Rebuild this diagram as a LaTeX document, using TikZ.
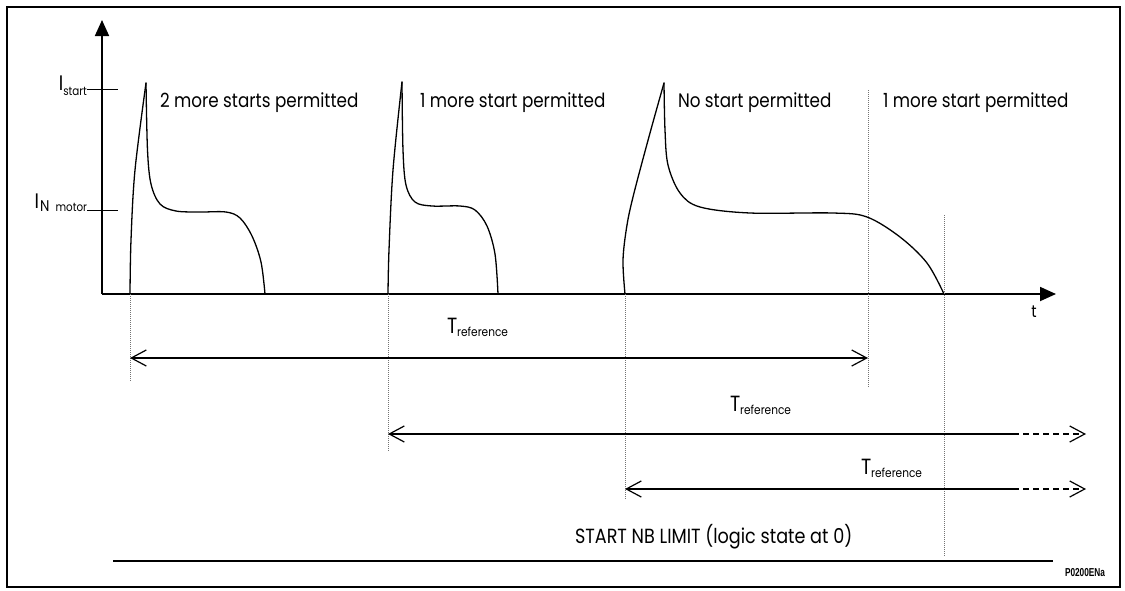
\documentclass[tikz,border=0pt]{standalone}
\usepackage{fontspec}
\setmainfont{Poppins}[FakeStretch=0.86]
\newfontfamily\tagfont{Liberation Sans}[FakeStretch=0.72]
\usetikzlibrary{arrows.meta}
% lowered small text for subscripts
\newcommand{\lowsub}[3]{\raisebox{-#1pt}{\fontsize{#2}{#2}\selectfont #3}}
\begin{document}
\begin{tikzpicture}[x=1pt,y=-1pt,
  every node/.style={inner sep=0pt, outer sep=0pt, text=black},
  lbl/.style={font=\fontsize{19.5}{19.5}\selectfont, anchor=base west},
  axis/.style={line width=1.8pt, -{Triangle[length=16pt,width=14pt]}},
  tick/.style={line width=1pt},
  wave/.style={line width=1.3pt, line join=round, line cap=round},
  guide/.style={line width=0.9pt, black!55, dash pattern=on 1pt off 1pt},
  span/.style={line width=1.2pt, {Straight Barb[length=15pt,width=16pt]}-{Straight Barb[length=15pt,width=16pt]}},
  lspan/.style={line width=1.2pt, {Straight Barb[length=15pt,width=16pt]}-},
  rspan/.style={line width=1.2pt, dash pattern=on 6pt off 4pt, -{Straight Barb[length=15pt,width=16pt]}},
  tref/.style={font=\fontsize{22}{22}\selectfont, anchor=base west},
  level/.style={font=\fontsize{21}{21}\selectfont, anchor=base east}
]
\useasboundingbox (0,0) rectangle (1125,590);
% outer frame
\draw[line width=2pt] (7,7) rectangle (1120,587);

% axes
\coordinate (O) at (102,294);
\coordinate (ytop) at (102,20);
\coordinate (xend) at (1056,294);
\draw[axis] (O) -- (ytop);
\draw[axis] (O) -- (xend);
\node[font=\fontsize{17}{17}\selectfont, anchor=base] (tlab) at (1034,317) {t};

% current levels
\coordinate (ts1) at (87,89);  \coordinate (ts2) at (118,89);
\coordinate (tn1) at (87,210); \coordinate (tn2) at (118,210);
\draw[tick] (ts1) -- (ts2);
\draw[tick] (tn1) -- (tn2);
\node[level] (istart) at (87,90)
  {I\lowsub{5}{12}{start}};
\node[level] (imotor) at (87,208)
  {I\hspace{1pt}\lowsub{3}{15.5}{N}\hspace{6pt}\lowsub{3}{12}{motor}};

% first start
\draw[wave] plot[smooth, tension=0.55] coordinates
  {(130,294) (131,240) (135,170) (146,83)};
\draw[wave] plot[smooth, tension=0.55] coordinates
  {(146,83) (147.5,150) (151,184) (160,204) (176,211) (200,212) (226,212)
   (240,218) (252,236) (261,262) (265,294)};

% second start
\draw[wave] plot[smooth, tension=0.55] coordinates
  {(388,294) (389,250) (393,170) (402,82)};
\draw[wave] plot[smooth, tension=0.55] coordinates
  {(402,82) (403,150) (406,185) (415,202) (432,206) (460,206)
   (475,210) (487,226) (495,254) (498,294)};

% third start
\draw[wave] plot[smooth, tension=0.55] coordinates
  {(625,294) (623,260) (627,225) (634,193) (650,133) (664,83)};
\draw[wave] plot[smooth, tension=0.55] coordinates
  {(664,83) (665,130) (668,165) (680,193) (700,207) (750,213) (833,213)
   (867,217) (900,237) (927,263) (944,294)};

% state labels
\node[lbl] (s1) at (160,107) {2 more starts permitted};
\node[lbl] (s2) at (420,107) {1 more start permitted};
\node[lbl] (s3) at (678,107) {No start permitted};
\node[lbl] (s4) at (883,107) {1 more start permitted};

% dotted time marks
\coordinate (g1a) at (130,294); \coordinate (g1b) at (130,381);
\coordinate (g2a) at (388,294); \coordinate (g2b) at (388,451);
\coordinate (g3a) at (625,294); \coordinate (g3b) at (625,499);
\coordinate (g4a) at (868,90);  \coordinate (g4b) at (868,388);
\coordinate (g5a) at (944,215); \coordinate (g5b) at (944,556);
\draw[guide] (g1a) -- (g1b);
\draw[guide] (g2a) -- (g2b);
\draw[guide] (g3a) -- (g3b);
\draw[guide] (g4a) -- (g4b);
\draw[guide] (g5a) -- (g5b);

% reference windows
\coordinate (r1a) at (130,358); \coordinate (r1b) at (868,358);
\draw[span] (r1a) -- (r1b);
\node[tref] (t1) at (447,333) {T\lowsub{3}{12.3}{reference}};

\coordinate (r2a) at (388,434); \coordinate (r2m) at (1013,434); \coordinate (r2b) at (1086,434);
\draw[lspan] (r2a) -- (r2m);
\draw[rspan] (r2m) -- (r2b);
\node[tref] (t2) at (730,411) {T\lowsub{3}{12.3}{reference}};

\coordinate (r3a) at (625,489); \coordinate (r3m) at (1013,489); \coordinate (r3b) at (1086,489);
\draw[lspan] (r3a) -- (r3m);
\draw[rspan] (r3m) -- (r3b);
\node[tref] (t3) at (861,474) {T\lowsub{3}{12.3}{reference}};

% start number limit output
\node[lbl, font=\fontsize{20.5}{20.5}\selectfont] (lim) at (575,543) {START NB LIMIT (logic state at 0)};
\coordinate (la) at (113,561); \coordinate (lb) at (1053,561);
\draw[line width=2.8pt] (la) -- (lb);

\node[anchor=base west, font=\tagfont\bfseries\fontsize{11.5}{11.5}\selectfont] (tag) at (1065,576) {P0200ENa};
\end{tikzpicture}
\end{document}
